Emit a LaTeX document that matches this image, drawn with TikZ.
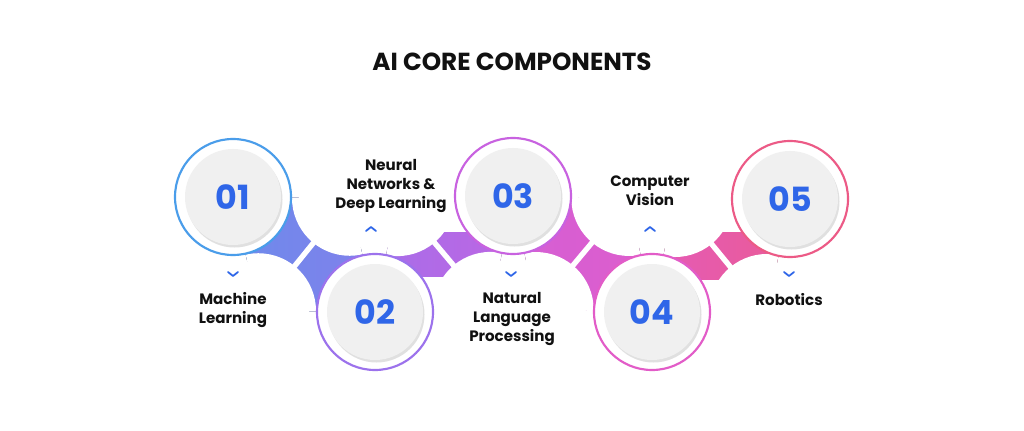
\documentclass[tikz,border=0pt]{standalone}
\usepackage{fontspec}
\setmainfont{Poppins}
\usetikzlibrary{calc}
\definecolor{c1}{HTML}{4A9DEA}
\definecolor{c2}{HTML}{9C72EC}
\definecolor{c3}{HTML}{C862E0}
\definecolor{c4}{HTML}{E25CC8}
\definecolor{c5}{HTML}{EC5A86}
\definecolor{num}{HTML}{2F66E8}
\definecolor{ink}{HTML}{111111}
\tikzset{
  ring/.style={draw=#1, line width=1.6pt, fill=white},
  numtxt/.style={text=num, font=\fontsize{25}{25}\selectfont\bfseries},
  lab/.style={text=ink, align=center, font=\fontsize{11.3}{14.2}\selectfont\bfseries},
  chev/.style={draw=num, line width=1.3pt, line cap=round, line join=round},
}
\newcommand{\mybridge}[4]{%
  \coordinate (M) at ($(#1)!0.5!(#2)$);
  \coordinate (U) at ($(M)!54.5pt!90:(#2)$);
  \coordinate (L) at ($(M)!54.5pt!-90:(#2)$);
  \begin{scope}
    \clip (#1) -- ($(#1)!49pt!(U)$) -- ($(#2)!49pt!(U)$) -- (#2) -- ($(#2)!49pt!(L)$) -- ($(#1)!49pt!(L)$) -- cycle;
    \fill[left color=#3, right color=#4] ($(#1)+(-80,-80)$) rectangle ($(#2)+(80,80)$);
  \end{scope}
  \begin{scope}
    \clip (#1) -- ($(#1)!56pt!(U)$) -- ($(#2)!56pt!(U)$) -- (#2) -- ($(#2)!56pt!(L)$) -- ($(#1)!56pt!(L)$) -- cycle;
    \fill[white] (U) circle (43.3pt) (L) circle (43.3pt);
    \draw[white, line width=4pt] ($(M)!30pt!90:(#2)$) -- ($(M)!30pt!-90:(#2)$);
  \end{scope}}
\begin{document}
\begin{tikzpicture}[x=0.75pt,y=-0.75pt]
\useasboundingbox (0,0) rectangle (1024,431);
\fill[white] (0,0) rectangle (1024,431);
\node[text=ink, font=\fontsize{18.5}{20}\selectfont\bfseries] (title) at (512,62) {AI CORE COMPONENTS};
\coordinate (p1) at (233,197);
\coordinate (p2) at (375,312);
\coordinate (p3) at (513,196);
\coordinate (p4) at (652,312);
\coordinate (p5) at (790,199);
\mybridge{p1}{p2}{c1!70!c2}{c2!80!c1}
\mybridge{p2}{p3}{c2}{c3}
\mybridge{p3}{p4}{c3!70!c4}{c4}
\mybridge{p4}{p5}{c4}{c5}
\foreach \i in {1,...,5}{
  \draw[ring=c\i] (p\i) circle (43.5pt);
  \fill[black!12] ($(p\i)+(1.5,2.5)$) circle (36pt);
  \fill[black!6] (p\i) circle (36pt);
  \node[numtxt] (n\i) at (p\i) {0\i};
}
\node[lab] (t1) at (233,310) {Machine\\Learning};
\node[lab] (t2) at (391,186) {Neural\\Networks \&\\Deep Learning};
\node[lab] (t3) at (512,319) {Natural\\Language\\Processing};
\node[lab] (t4) at (650,191) {Computer\\Vision};
\node[lab] (t5) at (789,300) {Robotics};
\coordinate (v1) at (233,276); \draw[chev] ($(v1)+(-5,-4)$) -- (v1) -- ($(v1)+(5,-4)$);
\coordinate (v3) at (511,276); \draw[chev] ($(v3)+(-5,-4)$) -- (v3) -- ($(v3)+(5,-4)$);
\coordinate (v5) at (789,276); \draw[chev] ($(v5)+(-5,-4)$) -- (v5) -- ($(v5)+(5,-4)$);
\coordinate (a2) at (371,227); \draw[chev] ($(a2)+(-5,4)$) -- (a2) -- ($(a2)+(5,4)$);
\coordinate (a4) at (650,227); \draw[chev] ($(a4)+(-5,4)$) -- (a4) -- ($(a4)+(5,4)$);
\end{tikzpicture}
\end{document}
